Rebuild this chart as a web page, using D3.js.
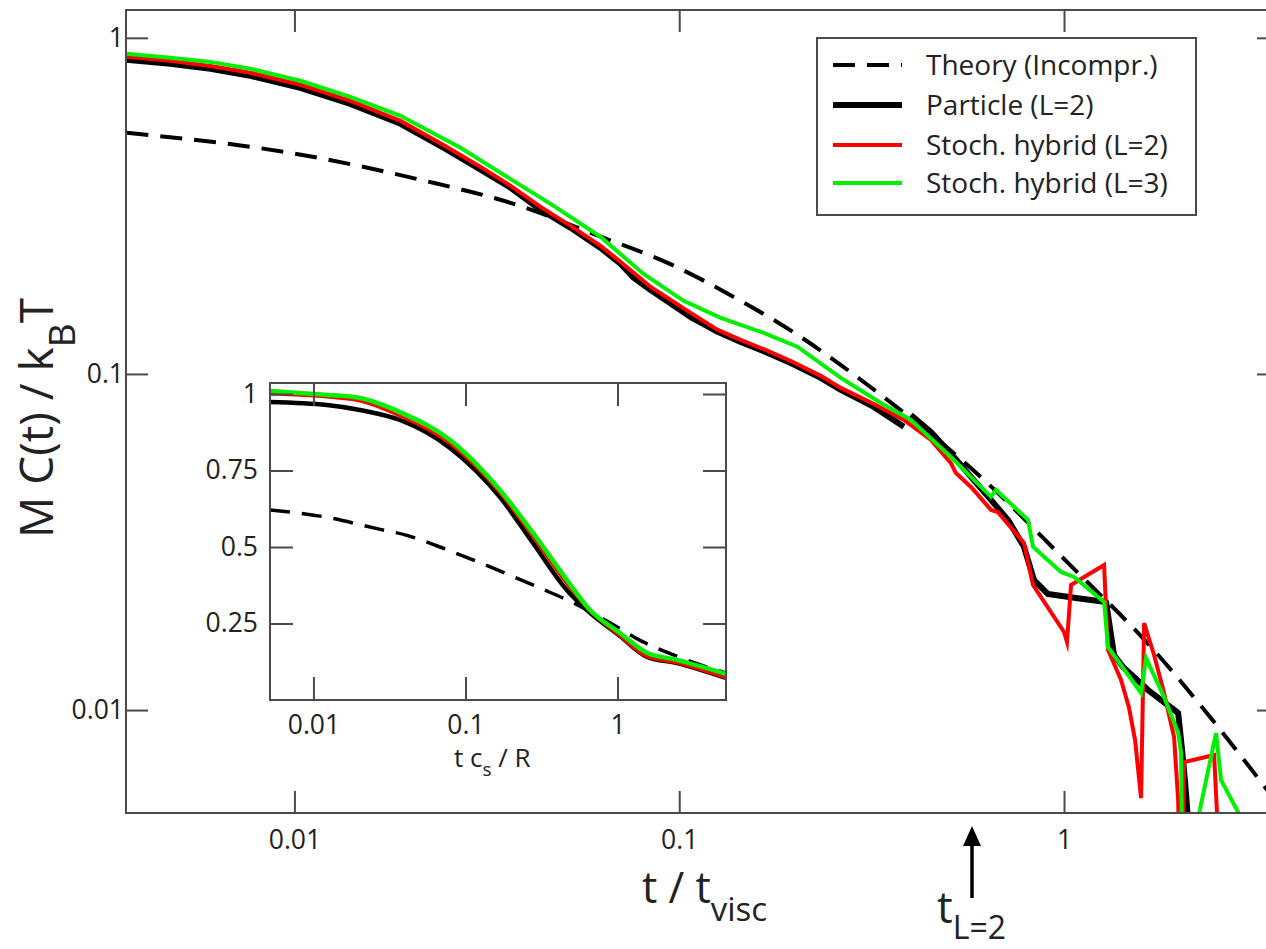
<!DOCTYPE html>
<html>
<head>
<meta charset="utf-8">
<script src="https://cdn.jsdelivr.net/npm/d3@7"></script>
<style>
  html, body { margin: 0; padding: 0; background: #fff; }
  svg { display: block; font-family: "Open Sans", "DejaVu Sans", sans-serif; }
</style>
</head>
<body>
<svg id="chart" width="1266" height="949"></svg>
<script>
// ---- Main panel: M C(t)/kBT versus t/t_visc (log-log) ----
// Each series is a list of [t / t_visc, M C(t) / kB T]
const theoryMain = [
  [0.00366, 0.522], [0.0104, 0.449], [0.0213, 0.378], [0.038, 0.318],
  [0.0625, 0.256], [0.0933, 0.214], [0.1386, 0.1695], [0.207, 0.1288],
  [0.309, 0.0927], [0.619, 0.0484], [1.024, 0.0274], [1.683, 0.0154],
  [2.515, 0.0089], [3.62, 0.0052]
];

// particle run, short-time part
const particleShort = [
  [0.00366, 0.860], [0.00476, 0.837], [0.00605, 0.809], [0.00768, 0.771],
  [0.01036, 0.710], [0.01398, 0.636], [0.01887, 0.555], [0.0244, 0.471],
  [0.03047, 0.405], [0.03646, 0.358], [0.04363, 0.308], [0.05222, 0.272],
  [0.06248, 0.237], [0.07045, 0.2126], [0.0762, 0.1931], [0.0843, 0.1778],
  [0.1071, 0.1477], [0.1259, 0.1334], [0.1445, 0.1245], [0.1699, 0.1155],
  [0.195, 0.1078], [0.2333, 0.0973], [0.263, 0.0897], [0.3205, 0.0798],
  [0.3836, 0.0696]
];

// particle run, long-time part
const particleLong = [
  [0.400, 0.0755], [0.451, 0.0672], [0.5174, 0.0566], [0.573, 0.0494],
  [0.6459, 0.0422], [0.7151, 0.0368], [0.787, 0.0306], [0.8357, 0.02437],
  [0.9087, 0.02214], [1.0745, 0.02154], [1.286, 0.02096], [1.349, 0.01458],
  [1.4235, 0.01343], [1.654, 0.01147], [1.980, 0.0098], [2.027, 0.0076],
  [2.064, 0.0061], [2.165, 0.003]
];

const hybridL2 = [
  [0.00366, 0.878], [0.00476, 0.854], [0.00605, 0.825], [0.00768, 0.787],
  [0.01036, 0.725], [0.01398, 0.649], [0.01887, 0.566], [0.0244, 0.480],
  [0.03047, 0.413], [0.03646, 0.3627], [0.04363, 0.314], [0.05222, 0.2758],
  [0.06248, 0.2404], [0.07045, 0.2154], [0.0762, 0.1998], [0.0843, 0.1815],
  [0.1071, 0.1519], [0.1259, 0.1352], [0.1445, 0.1263], [0.1699, 0.1171],
  [0.195, 0.1093], [0.2333, 0.0987], [0.263, 0.0909], [0.3205, 0.0814],
  [0.3836, 0.0730], [0.451, 0.0636], [0.5083, 0.0543], [0.5237, 0.0507],
  [0.573, 0.0461], [0.6459, 0.0394], [0.6734, 0.0388], [0.787, 0.0314],
  [0.8306, 0.02355], [0.925, 0.01957], [1.0, 0.01707], [1.018, 0.01594],
  [1.043, 0.02355], [1.271, 0.0270], [1.301, 0.0151], [1.407, 0.01229],
  [1.476, 0.01014], [1.530, 0.00814], [1.586, 0.00547], [1.615, 0.01815],
  [1.714, 0.01458], [1.820, 0.01124], [1.932, 0.00831], [1.980, 0.0054],
  [2.015, 0.002], [2.051, 0.0070], [2.455, 0.00735], [2.60, 0.002]
];

const hybridL3 = [
  [0.00366, 0.896], [0.00476, 0.872], [0.00605, 0.848], [0.00768, 0.809],
  [0.01036, 0.745], [0.01398, 0.667], [0.01887, 0.586], [0.02702, 0.471],
  [0.03434, 0.3964], [0.04633, 0.3206], [0.06248, 0.2557], [0.0808, 0.1984],
  [0.1027, 0.1650], [0.1282, 0.1468], [0.1659, 0.1324], [0.2033, 0.1203],
  [0.263, 0.0973], [0.3342, 0.0820], [0.400, 0.0730], [0.5083, 0.0566],
  [0.6459, 0.0431], [0.6654, 0.0452], [0.806, 0.0368], [0.8306, 0.0306],
  [0.982, 0.02575], [1.062, 0.02488], [1.271, 0.02096], [1.301, 0.0154],
  [1.586, 0.01124], [1.634, 0.01428], [1.820, 0.01093], [1.980, 0.00854],
  [2.015, 0.00745], [2.039, 0.002], [2.139, 0.0038], [2.484, 0.00854],
  [2.560, 0.00619], [3.064, 0.0042]
];

const mainXTicks = [0.01, 0.1, 1];
const mainXTickLabels = ["0.01", "0.1", "1"];
const mainYTicks = [0.01, 0.1, 1];
const mainYTickLabels = ["0.01", "0.1", "1"];

// ---- Inset: normalised C(t) versus t c_s / R (log-linear) ----
const insetTheory = [
  [0.00518, 0.621], [0.01227, 0.597], [0.0262, 0.560], [0.0412, 0.538],
  [0.0679, 0.500], [0.112, 0.458], [0.1875, 0.412], [0.309, 0.366],
  [0.509, 0.318], [0.853, 0.258], [1.472, 0.190], [2.46, 0.143], [5.17, 0.088]
];
const insetParticle = [
  [0.00518, 0.974], [0.01227, 0.964], [0.0202, 0.948], [0.0371, 0.915],
  [0.0791, 0.824], [0.1687, 0.663], [0.278, 0.513], [0.4653, 0.359],
  [0.630, 0.294], [1.038, 0.209], [1.564, 0.141], [2.46, 0.121], [5.17, 0.072]
];
const insetHybridL2 = [
  [0.00518, 1.0], [0.01227, 0.990], [0.0202, 0.977], [0.0371, 0.928],
  [0.0791, 0.837], [0.1687, 0.676], [0.278, 0.533], [0.4653, 0.379],
  [0.659, 0.291], [1.038, 0.209], [1.564, 0.141], [2.46, 0.121], [5.17, 0.072]
];
const insetHybridL3 = [
  [0.00518, 1.01], [0.01227, 0.997], [0.0202, 0.987], [0.0371, 0.941],
  [0.0791, 0.850], [0.1687, 0.686], [0.278, 0.546], [0.4653, 0.392],
  [0.659, 0.294], [1.038, 0.219], [1.564, 0.154], [2.46, 0.131], [5.17, 0.085]
];
const insetXTicks = [0.01, 0.1, 1];
const insetXTickLabels = ["0.01", "0.1", "1"];
const insetYTicks = [0.25, 0.5, 0.75, 1];
const insetYTickLabels = ["0.25", "0.5", "0.75", "1"];

const legendLabels = ["Theory (Incompr.)", "Particle (L=2)", "Stoch. hybrid (L=2)", "Stoch. hybrid (L=3)"];

// ---- drawing ----
const svg = d3.select("#chart");
const AXIS = "#4a4a4a";
const TEXT = "#222";
const RED = "#ff0000";
const GREEN = "#00f000";
const TICK_FONT = 26.5;

const M = { left: 126, top: 10, right: 1279, bottom: 813 };
const x = d3.scaleLog().domain([0.00365, 3.62]).range([M.left, M.right]);
const y = d3.scaleLog().domain([0.00494, 1.21]).range([M.bottom, M.top]);

svg.append("defs").append("clipPath").attr("id", "mainClip")
  .append("rect").attr("x", M.left).attr("y", M.top)
  .attr("width", M.right - M.left).attr("height", M.bottom - M.top);

const mainLine = d3.line().x(d => x(d[0])).y(d => y(d[1]));
const mainSmooth = d3.line().x(d => x(d[0])).y(d => y(d[1])).curve(d3.curveMonotoneX);

const plot = svg.append("g").attr("clip-path", "url(#mainClip)");
plot.append("path").datum(theoryMain).attr("d", mainSmooth)
  .attr("fill", "none").attr("stroke", "#000").attr("stroke-width", 4)
  .attr("stroke-dasharray", "22,12");
[particleShort, particleLong].forEach(s => {
  plot.append("path").datum(s).attr("d", mainLine)
    .attr("fill", "none").attr("stroke", "#000").attr("stroke-width", 6)
    .attr("stroke-linejoin", "round");
});
plot.append("path").datum(hybridL2).attr("d", mainLine)
  .attr("fill", "none").attr("stroke", RED).attr("stroke-width", 4)
  .attr("stroke-linejoin", "miter").attr("stroke-miterlimit", 6);
plot.append("path").datum(hybridL3).attr("d", mainLine)
  .attr("fill", "none").attr("stroke", GREEN).attr("stroke-width", 4)
  .attr("stroke-linejoin", "miter").attr("stroke-miterlimit", 6);

// frame
svg.append("rect").attr("x", M.left).attr("y", M.top)
  .attr("width", M.right - M.left).attr("height", M.bottom - M.top)
  .attr("fill", "none").attr("stroke", AXIS).attr("stroke-width", 2);

function styleAxis(g, size) {
  g.select(".domain").remove();
  g.attr("color", AXIS).attr("font-family", null).attr("font-size", size);
  g.selectAll(".tick line").attr("stroke-width", 2);
  g.selectAll(".tick text").attr("fill", TEXT);
}

svg.append("g").attr("transform", `translate(0,${M.bottom})`)
  .call(d3.axisBottom(x).tickValues(mainXTicks).tickFormat((d, i) => mainXTickLabels[i])
    .tickSizeInner(-22).tickSizeOuter(0).tickPadding(17))
  .call(g => styleAxis(g, TICK_FONT));
svg.append("g").attr("transform", `translate(0,${M.top})`)
  .call(d3.axisTop(x).tickValues(mainXTicks).tickFormat("")
    .tickSizeInner(-22).tickSizeOuter(0))
  .call(g => styleAxis(g, TICK_FONT));
svg.append("g").attr("transform", `translate(${M.left},0)`)
  .call(d3.axisLeft(y).tickValues(mainYTicks).tickFormat((d, i) => mainYTickLabels[i])
    .tickSizeInner(-22).tickSizeOuter(0).tickPadding(2))
  .call(g => styleAxis(g, TICK_FONT));
svg.append("g").attr("transform", `translate(${M.right},0)`)
  .call(d3.axisRight(y).tickValues(mainYTicks).tickFormat("")
    .tickSizeInner(-22).tickSizeOuter(0))
  .call(g => styleAxis(g, TICK_FONT));

// axis titles
const yTitle = svg.append("text").attr("transform", "translate(53,538) rotate(-90)")
  .attr("font-size", 46).attr("fill", TEXT);
yTitle.append("tspan").text("M C(t) / k");
yTitle.append("tspan").attr("dy", 22).attr("font-size", 37).text("B");
yTitle.append("tspan").attr("dy", -22).text("T");

const xTitle = svg.append("text").attr("x", 642).attr("y", 903)
  .attr("font-size", 43).attr("fill", TEXT);
xTitle.append("tspan").text("t / t");
xTitle.append("tspan").attr("dy", 18).attr("font-size", 33).text("visc");

// t_{L=2} marker
svg.append("line").attr("x1", 972).attr("x2", 972).attr("y1", 898).attr("y2", 842)
  .attr("stroke", "#000").attr("stroke-width", 3.5);
svg.append("path").attr("d", "M972,826 L963,846 L981,846 Z").attr("fill", "#000");
const tl = svg.append("text").attr("x", 937).attr("y", 923)
  .attr("font-size", 44).attr("fill", TEXT);
tl.append("tspan").text("t");
tl.append("tspan").attr("dy", 16).attr("font-size", 32).text("L=2");

// legend
const leg = svg.append("g");
leg.append("rect").attr("x", 817).attr("y", 38).attr("width", 379).attr("height", 177)
  .attr("fill", "#fff").attr("stroke", AXIS).attr("stroke-width", 2);
const legRows = [65, 105, 145, 183];
const legStyles = [
  { stroke: "#000", width: 4, dash: "22,12" },
  { stroke: "#000", width: 6, dash: null },
  { stroke: RED, width: 4, dash: null },
  { stroke: GREEN, width: 4, dash: null }
];
legendLabels.forEach((lab, i) => {
  const ly = legRows[i];
  leg.append("line").attr("x1", 833).attr("x2", 902).attr("y1", ly).attr("y2", ly)
    .attr("stroke", legStyles[i].stroke).attr("stroke-width", legStyles[i].width)
    .attr("stroke-dasharray", legStyles[i].dash);
  leg.append("text").attr("x", 926).attr("y", ly).attr("dy", "0.35em")
    .attr("font-size", 28).attr("fill", TEXT).text(lab);
});

// ---- inset ----
const I = { left: 270, top: 383, right: 726, bottom: 700 };
const xi = d3.scaleLog().domain([0.00518, 5.17]).range([I.left, I.right]);
const yi = d3.scaleLinear().domain([0, 1.036]).range([I.bottom, I.top]);

svg.select("defs").append("clipPath").attr("id", "insetClip")
  .append("rect").attr("x", I.left).attr("y", I.top)
  .attr("width", I.right - I.left).attr("height", I.bottom - I.top);

svg.append("rect").attr("x", I.left).attr("y", I.top)
  .attr("width", I.right - I.left).attr("height", I.bottom - I.top)
  .attr("fill", "#fff");

const insetLine = d3.line().x(d => xi(d[0])).y(d => yi(d[1])).curve(d3.curveMonotoneX);
const ip = svg.append("g").attr("clip-path", "url(#insetClip)");
ip.append("path").datum(insetTheory).attr("d", insetLine)
  .attr("fill", "none").attr("stroke", "#000").attr("stroke-width", 3.5)
  .attr("stroke-dasharray", "20,12");
ip.append("path").datum(insetParticle).attr("d", insetLine)
  .attr("fill", "none").attr("stroke", "#000").attr("stroke-width", 4.5);
ip.append("path").datum(insetHybridL2).attr("d", insetLine)
  .attr("fill", "none").attr("stroke", RED).attr("stroke-width", 3);
ip.append("path").datum(insetHybridL3).attr("d", insetLine)
  .attr("fill", "none").attr("stroke", GREEN).attr("stroke-width", 4.5);

svg.append("rect").attr("x", I.left).attr("y", I.top)
  .attr("width", I.right - I.left).attr("height", I.bottom - I.top)
  .attr("fill", "none").attr("stroke", AXIS).attr("stroke-width", 2);

svg.append("g").attr("transform", `translate(0,${I.bottom})`)
  .call(d3.axisBottom(xi).tickValues(insetXTicks).tickFormat((d, i) => insetXTickLabels[i])
    .tickSizeInner(-23).tickSizeOuter(0).tickPadding(15))
  .call(g => styleAxis(g, TICK_FONT));
svg.append("g").attr("transform", `translate(0,${I.top})`)
  .call(d3.axisTop(xi).tickValues(insetXTicks).tickFormat("")
    .tickSizeInner(-23).tickSizeOuter(0))
  .call(g => styleAxis(g, TICK_FONT));
svg.append("g").attr("transform", `translate(${I.left},0)`)
  .call(d3.axisLeft(yi).tickValues(insetYTicks).tickFormat((d, i) => insetYTickLabels[i])
    .tickSizeInner(-23).tickSizeOuter(0).tickPadding(12))
  .call(g => styleAxis(g, TICK_FONT));
svg.append("g").attr("transform", `translate(${I.right},0)`)
  .call(d3.axisRight(yi).tickValues(insetYTicks).tickFormat("")
    .tickSizeInner(-23).tickSizeOuter(0))
  .call(g => styleAxis(g, TICK_FONT));

const xiTitle = svg.append("text").attr("x", 454).attr("y", 767)
  .attr("font-size", 26).attr("fill", TEXT);
xiTitle.append("tspan").text("t c");
xiTitle.append("tspan").attr("dy", 9).attr("font-size", 19).text("s");
xiTitle.append("tspan").attr("dy", -9).text(" / R");
</script>
</body>
</html>
